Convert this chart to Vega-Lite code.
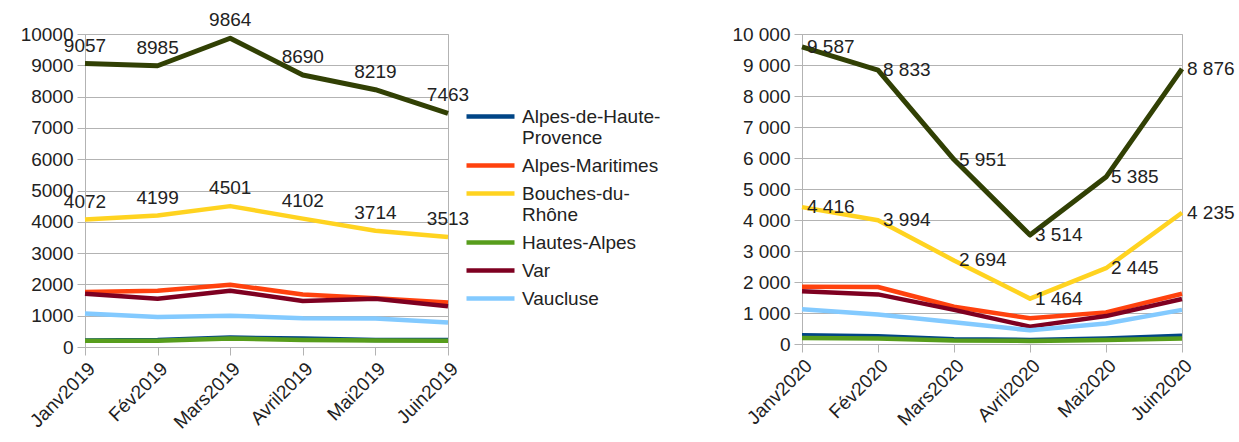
{
  "$schema": "https://vega.github.io/schema/vega-lite/v6.json",
  "padding": {"left": 19, "top": 10, "right": 5, "bottom": 5},
  "background": "white",
  "config": {
    "locale": {"number": {"decimal": ",", "thousands": " ", "grouping": [3], "currency": ["", " €"]}},
    "font": "Liberation Sans",
    "view": {"stroke": "#b3b3b3", "strokeWidth": 1},
    "axis": {
      "labelFont": "Liberation Sans", "labelFontSize": 19, "labelColor": "#222222",
      "domainColor": "#b3b3b3", "tickColor": "#b3b3b3", "gridColor": "#b3b3b3",
      "tickSize": 8, "labelPadding": 4, "title": null
    }
  },
  "datasets": {
    "d2019": [
      {"month": "Janv2019", "dept": "Alpes-de-Haute-Provence", "value": 210},
      {"month": "Fév2019", "dept": "Alpes-de-Haute-Provence", "value": 220},
      {"month": "Mars2019", "dept": "Alpes-de-Haute-Provence", "value": 300},
      {"month": "Avril2019", "dept": "Alpes-de-Haute-Provence", "value": 270},
      {"month": "Mai2019", "dept": "Alpes-de-Haute-Provence", "value": 220},
      {"month": "Juin2019", "dept": "Alpes-de-Haute-Provence", "value": 220},
      {"month": "Janv2019", "dept": "Alpes-Maritimes", "value": 1760},
      {"month": "Fév2019", "dept": "Alpes-Maritimes", "value": 1800},
      {"month": "Mars2019", "dept": "Alpes-Maritimes", "value": 1990},
      {"month": "Avril2019", "dept": "Alpes-Maritimes", "value": 1680},
      {"month": "Mai2019", "dept": "Alpes-Maritimes", "value": 1560},
      {"month": "Juin2019", "dept": "Alpes-Maritimes", "value": 1420},
      {"month": "Janv2019", "dept": "Bouches-du-Rhône", "value": 4072},
      {"month": "Fév2019", "dept": "Bouches-du-Rhône", "value": 4199},
      {"month": "Mars2019", "dept": "Bouches-du-Rhône", "value": 4501},
      {"month": "Avril2019", "dept": "Bouches-du-Rhône", "value": 4102},
      {"month": "Mai2019", "dept": "Bouches-du-Rhône", "value": 3714},
      {"month": "Juin2019", "dept": "Bouches-du-Rhône", "value": 3513},
      {"month": "Janv2019", "dept": "Hautes-Alpes", "value": 200},
      {"month": "Fév2019", "dept": "Hautes-Alpes", "value": 200},
      {"month": "Mars2019", "dept": "Hautes-Alpes", "value": 270},
      {"month": "Avril2019", "dept": "Hautes-Alpes", "value": 220},
      {"month": "Mai2019", "dept": "Hautes-Alpes", "value": 210},
      {"month": "Juin2019", "dept": "Hautes-Alpes", "value": 200},
      {"month": "Janv2019", "dept": "Var", "value": 1700},
      {"month": "Fév2019", "dept": "Var", "value": 1540},
      {"month": "Mars2019", "dept": "Var", "value": 1800},
      {"month": "Avril2019", "dept": "Var", "value": 1470},
      {"month": "Mai2019", "dept": "Var", "value": 1540},
      {"month": "Juin2019", "dept": "Var", "value": 1300},
      {"month": "Janv2019", "dept": "Vaucluse", "value": 1070},
      {"month": "Fév2019", "dept": "Vaucluse", "value": 960},
      {"month": "Mars2019", "dept": "Vaucluse", "value": 1000},
      {"month": "Avril2019", "dept": "Vaucluse", "value": 920},
      {"month": "Mai2019", "dept": "Vaucluse", "value": 910},
      {"month": "Juin2019", "dept": "Vaucluse", "value": 780},
      {"month": "Janv2019", "dept": "Total", "value": 9057},
      {"month": "Fév2019", "dept": "Total", "value": 8985},
      {"month": "Mars2019", "dept": "Total", "value": 9864},
      {"month": "Avril2019", "dept": "Total", "value": 8690},
      {"month": "Mai2019", "dept": "Total", "value": 8219},
      {"month": "Juin2019", "dept": "Total", "value": 7463}
    ],
    "d2020": [
      {"month": "Janv2020", "dept": "Alpes-de-Haute-Provence", "value": 280},
      {"month": "Fév2020", "dept": "Alpes-de-Haute-Provence", "value": 250},
      {"month": "Mars2020", "dept": "Alpes-de-Haute-Provence", "value": 150},
      {"month": "Avril2020", "dept": "Alpes-de-Haute-Provence", "value": 130},
      {"month": "Mai2020", "dept": "Alpes-de-Haute-Provence", "value": 180},
      {"month": "Juin2020", "dept": "Alpes-de-Haute-Provence", "value": 270},
      {"month": "Janv2020", "dept": "Alpes-Maritimes", "value": 1850},
      {"month": "Fév2020", "dept": "Alpes-Maritimes", "value": 1840},
      {"month": "Mars2020", "dept": "Alpes-Maritimes", "value": 1200},
      {"month": "Avril2020", "dept": "Alpes-Maritimes", "value": 830},
      {"month": "Mai2020", "dept": "Alpes-Maritimes", "value": 1020},
      {"month": "Juin2020", "dept": "Alpes-Maritimes", "value": 1620},
      {"month": "Janv2020", "dept": "Bouches-du-Rhône", "value": 4416},
      {"month": "Fév2020", "dept": "Bouches-du-Rhône", "value": 3994},
      {"month": "Mars2020", "dept": "Bouches-du-Rhône", "value": 2694},
      {"month": "Avril2020", "dept": "Bouches-du-Rhône", "value": 1464},
      {"month": "Mai2020", "dept": "Bouches-du-Rhône", "value": 2445},
      {"month": "Juin2020", "dept": "Bouches-du-Rhône", "value": 4235},
      {"month": "Janv2020", "dept": "Hautes-Alpes", "value": 190},
      {"month": "Fév2020", "dept": "Hautes-Alpes", "value": 180},
      {"month": "Mars2020", "dept": "Hautes-Alpes", "value": 110},
      {"month": "Avril2020", "dept": "Hautes-Alpes", "value": 100},
      {"month": "Mai2020", "dept": "Hautes-Alpes", "value": 130},
      {"month": "Juin2020", "dept": "Hautes-Alpes", "value": 180},
      {"month": "Janv2020", "dept": "Var", "value": 1700},
      {"month": "Fév2020", "dept": "Var", "value": 1600},
      {"month": "Mars2020", "dept": "Var", "value": 1100},
      {"month": "Avril2020", "dept": "Var", "value": 560},
      {"month": "Mai2020", "dept": "Var", "value": 900},
      {"month": "Juin2020", "dept": "Var", "value": 1450},
      {"month": "Janv2020", "dept": "Vaucluse", "value": 1120},
      {"month": "Fév2020", "dept": "Vaucluse", "value": 950},
      {"month": "Mars2020", "dept": "Vaucluse", "value": 700},
      {"month": "Avril2020", "dept": "Vaucluse", "value": 440},
      {"month": "Mai2020", "dept": "Vaucluse", "value": 660},
      {"month": "Juin2020", "dept": "Vaucluse", "value": 1100},
      {"month": "Janv2020", "dept": "Total", "value": 9587},
      {"month": "Fév2020", "dept": "Total", "value": 8833},
      {"month": "Mars2020", "dept": "Total", "value": 5951},
      {"month": "Avril2020", "dept": "Total", "value": 3514},
      {"month": "Mai2020", "dept": "Total", "value": 5385},
      {"month": "Juin2020", "dept": "Total", "value": 8876}
    ]
  },
  "resolve": {"legend": {"color": "independent"}, "scale": {"x": "independent"}},
  "spacing": 69,
  "hconcat": [
    {
      "width": 363,
      "height": 313,
      "data": {"name": "d2019"},
      "encoding": {
        "x": {"field": "month", "type": "ordinal", "sort": null,
              "scale": {"type": "point", "padding": 0},
              "axis": {"labelAngle": -45, "grid": false, "ticks": true}},
        "y": {"field": "value", "type": "quantitative",
              "scale": {"domain": [0, 10000], "nice": false},
              "axis": {"values": [0,1000,2000,3000,4000,5000,6000,7000,8000,9000,10000], "format": "d", "grid": true}}
      },
      "layer": [
        {
          "transform": [{"filter": "datum.dept != 'Total'"}],
          "mark": {"type": "line", "strokeWidth": 4.5, "strokeJoin": "round"},
          "encoding": {
            "color": {"field": "dept", "type": "nominal",
              "scale": {"domain": ["Alpes-de-Haute-Provence", "Alpes-Maritimes", "Bouches-du-Rhône", "Hautes-Alpes", "Var", "Vaucluse"],
                        "range": ["#004586", "#ff420e", "#ffd320", "#579d1c", "#7e0021", "#83caff"]},
              "legend": {"title": null, "orient": "none", "legendX": 396, "legendY": 73, "padding": 0,
                "symbolType": "M-4,0H4", "symbolSize": 144, "symbolStrokeWidth": 4.5,
                "labelFont": "Liberation Sans", "labelFontSize": 19, "labelColor": "#222222", "labelOffset": 22,
                "labelLimit": 300, "rowPadding": 8,
                "labelExpr": "datum.label == 'Alpes-de-Haute-Provence' ? ['Alpes-de-Haute-', 'Provence'] : datum.label == 'Bouches-du-Rhône' ? ['Bouches-du-', 'Rhône'] : datum.label"}}
          }
        },
        {
          "transform": [{"filter": "datum.dept == 'Total'"}],
          "mark": {"type": "line", "strokeWidth": 5, "strokeJoin": "round", "color": "#314004"},
          "encoding": {}
        },
        {
          "transform": [{"filter": "datum.dept == 'Total' || datum.dept == 'Bouches-du-Rhône'"}],
          "mark": {"type": "text", "font": "Liberation Sans", "fontSize": 19, "color": "#222222", "dy": -18, "baseline": "middle", "align": "center"},
          "encoding": {"text": {"field": "value", "type": "quantitative", "format": "d"}}
        }
      ]
    },
    {
      "width": 380,
      "height": 310,
      "data": {"name": "d2020"},
      "encoding": {
        "x": {"field": "month", "type": "ordinal", "sort": null,
              "scale": {"type": "point", "padding": 0},
              "axis": {"labelAngle": -45, "grid": false, "ticks": true}},
        "y": {"field": "value", "type": "quantitative",
              "scale": {"domain": [0, 10000], "nice": false},
              "axis": {"values": [0,1000,2000,3000,4000,5000,6000,7000,8000,9000,10000], "format": ",d", "grid": true}}
      },
      "layer": [
        {
          "transform": [{"filter": "datum.dept != 'Total'"}],
          "mark": {"type": "line", "strokeWidth": 4.5, "strokeJoin": "round"},
          "encoding": {
            "color": {"field": "dept", "type": "nominal",
              "scale": {"domain": ["Alpes-de-Haute-Provence", "Alpes-Maritimes", "Bouches-du-Rhône", "Hautes-Alpes", "Var", "Vaucluse"],
                        "range": ["#004586", "#ff420e", "#ffd320", "#579d1c", "#7e0021", "#83caff"]},
              "legend": null}
          }
        },
        {
          "transform": [{"filter": "datum.dept == 'Total'"}],
          "mark": {"type": "line", "strokeWidth": 5, "strokeJoin": "round", "color": "#314004"},
          "encoding": {}
        },
        {
          "transform": [{"filter": "datum.dept == 'Total' || datum.dept == 'Bouches-du-Rhône'"}],
          "mark": {"type": "text", "font": "Liberation Sans", "fontSize": 19, "color": "#222222", "dx": 5, "baseline": "middle", "align": "left"},
          "encoding": {"text": {"field": "value", "type": "quantitative", "format": ",d"}}
        }
      ]
    }
  ]
}
